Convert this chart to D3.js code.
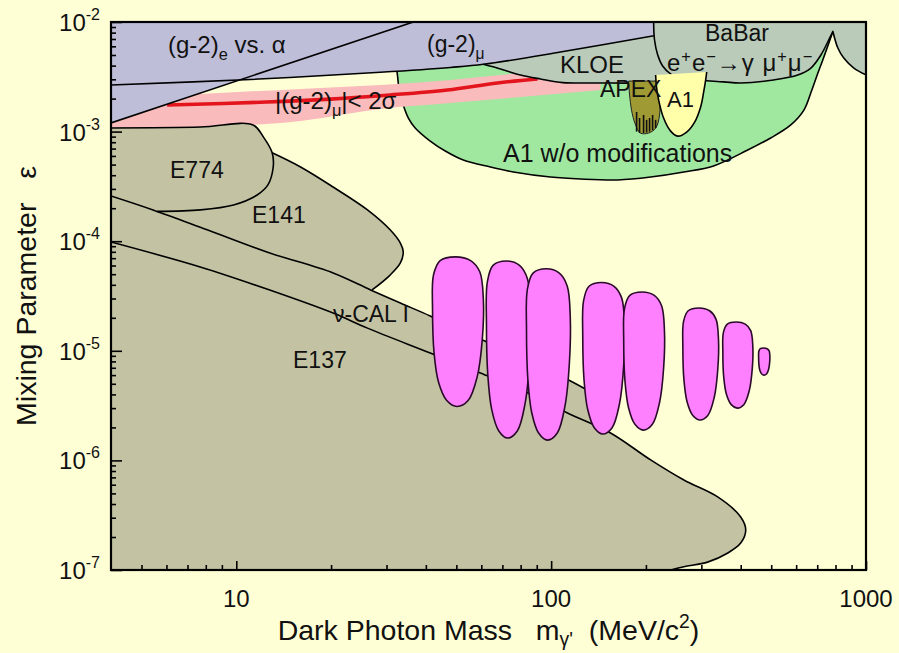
<!DOCTYPE html>
<html><head><meta charset="utf-8">
<script src="https://cdn.jsdelivr.net/npm/d3@7"></script>
<style>
html,body{margin:0;padding:0;background:#FFFFD6;}
svg{display:block;font-family:"Liberation Sans",Arial,Helvetica,sans-serif;}
text{white-space:pre;}
</style></head><body>
<svg id="chart" width="899" height="653"></svg>
<script>
// ---- axes ----
const massDomain = [4, 1000];            // MeV/c^2
const epsDomain = [1e-7, 1e-2];
const xMajorTicks = [10, 100, 1000];
const xMajorLabels = ["10", "100", "1000"];
const yMajorExponents = [-7, -6, -5, -4, -3, -2];

// ---- exclusion boundaries, [mass (MeV), epsilon] ----
const gm2eEdge = [[4, 1.2e-3], [36.5, 1e-2]];
const gm2muEdge = [[4, 2.66e-3], [11.1, 2.99e-3], [28.7, 3.48e-3], [47.9, 3.85e-3], [60.9, 4.11e-3], [107, 5.32e-3], [212, 7.5e-3]];
const kloeBabarEdge = [[60.9, 4.11e-3], [69, 3.73e-3], [79.9, 3.28e-3], [92.5, 3.02e-3], [109, 2.8e-3], [143, 2.78e-3], [192, 2.78e-3], [223, 2.89e-3], [277, 2.96e-3], [353, 2.84e-3], [400, 2.78e-3], [509, 2.96e-3], [607, 3.28e-3], [668, 3.8e-3], [719, 5.0e-3], [756, 6.57e-3], [785, 8.2e-3], [814, 5.79e-3], [850, 4.69e-3], [915, 3.8e-3], [1000, 3.3e-3]];
const babarInnerEdge = [[211.6, 1e-2], [213, 6.85e-3], [218, 5.0e-3], [226, 3.97e-3], [240, 3.35e-3], [258, 3.08e-3], [277, 2.96e-3]];
const a1FullEdge = [[32.0, 4.5e-3], [32.5, 3.28e-3], [32.9, 2.4e-3], [33.9, 1.75e-3], [35.2, 1.33e-3], [37.0, 1.08e-3], [41.3, 8.2e-4], [46.1, 6.65e-4], [52.6, 5.5e-4], [64.1, 4.75e-4], [75.9, 4.28e-4], [99.5, 3.85e-4], [124, 3.69e-4], [163, 3.62e-4], [207, 3.85e-4], [264, 4.28e-4], [328, 4.86e-4], [421, 6.79e-4], [498, 8.74e-4], [577, 1.15e-3], [635, 1.57e-3], [673, 2.4e-3], [698, 3.22e-3], [729, 4.5e-3], [785, 8.2e-3]];
const apexEdge = [[176, 2.89e-3], [177.5, 2.16e-3], [180, 1.57e-3], [185, 1.17e-3], [192, 9.7e-4], [204, 9.7e-4], [215, 1.08e-3], [221, 1.42e-3], [221, 2.16e-3], [218, 2.89e-3]];
const apexFringe = [[186.8, 1.51e-3, 1.0e-3], [190.9, 1.33e-3, 9.7e-4], [196.6, 1.42e-3, 9.7e-4], [201, 1.28e-3, 9.8e-4], [205.4, 1.33e-3, 1.0e-3], [210, 1.42e-3, 1.03e-3], [214.7, 1.28e-3, 1.08e-3]];
const a1Edge = [[214.7, 3.28e-3], [216.3, 2.5e-3], [219.5, 1.94e-3], [227.6, 1.33e-3], [239.6, 1.01e-3], [252.2, 9.1e-4], [269.4, 9.9e-4], [285.6, 1.22e-3], [298.4, 1.68e-3], [305.1, 2.3e-3], [309.6, 2.96e-3], [311.9, 3.5e-3]];

// (g-2)_mu favoured band: central curve and 2 sigma limits
const gm2muCentral = [[6.03, 1.75e-3], [12.5, 1.86e-3], [19.9, 1.98e-3], [30.8, 2.16e-3], [46.8, 2.40e-3], [67.5, 2.78e-3], [90.5, 3.02e-3]];
const bandMass = [4, 7.68, 16.0, 28.7, 47.9, 79.9, 143.5];
const bandLow = [1.03e-3, 1.10e-3, 1.25e-3, 1.61e-3, 1.82e-3, 2.07e-3, 2.40e-3];
const bandHigh = [1.94e-3, 2.20e-3, 2.45e-3, 2.66e-3, 2.96e-3, 3.43e-3, 3.97e-3];

// beam dump limits
const e774Edge = [[4, 1.08e-3], [7.7, 1.1e-3], [11.3, 1.15e-3], [12.2, 8.9e-4], [13.0, 6.4e-4], [13.1, 4.75e-4], [12.6, 3.26e-4], [11.65, 2.64e-4], [9.8, 2.14e-4], [7.7, 1.93e-4], [5.6, 1.87e-4]];
const e141Edge = [[13.0, 6.4e-4], [16.0, 4.75e-4], [20.3, 3.12e-4], [26.1, 1.93e-4], [30.8, 1.27e-4], [33.2, 9.6e-5], [33.9, 8.0e-5], [33.2, 6.33e-5], [30.8, 4.91e-5], [27.0, 3.59e-5]];
const vcalUpperEdge = [[4, 2.59e-4], [5.44, 1.93e-4], [8.08, 1.27e-4], [12.5, 7.97e-5], [20.3, 5.13e-5], [26.7, 3.59e-5], [33.2, 2.73e-5], [41.3, 2.08e-5], [59.6, 1.28e-5], [86, 7.9e-6], [113.6, 5.41e-6], [133.4, 4.21e-6]];
const e137Edge = [[4, 9.83e-5], [7.68, 5.82e-5], [12.5, 3.66e-5], [20.3, 2.21e-5], [26.1, 1.61e-5], [41.3, 9.55e-6], [59.6, 6.27e-6], [86, 4.03e-6], [112.7, 2.71e-6], [154.4, 1.78e-6], [207, 1.01e-6], [264, 6.62e-7], [338, 4.64e-7], [400, 3.05e-7], [415, 2.32e-7], [400, 1.76e-7], [364, 1.43e-7], [314, 1.18e-7], [264, 1.07e-7], [240, 1e-7]];

// projected reach, one island per beam setting
const islandMassLo = [42.0, 62.3, 83.5, 126, 170, 262, 351, 456];
const islandMassHi = [60.9, 86.0, 115, 171, 229, 340, 437, 495];
const islandEpsTop = [7.2e-5, 6.6e-5, 5.6e-5, 4.2e-5, 3.44e-5, 2.46e-5, 1.83e-5, 1.06e-5];
const islandEpsBot = [3.1e-6, 1.6e-6, 1.53e-6, 1.74e-6, 1.89e-6, 2.34e-6, 3.0e-6, 6.0e-6];

// ---- drawing ----
const W = 899, H = 653;
const box = {left: 111, right: 866, top: 22, bottom: 570};
const colors = {
  bg: "#FFFFD6", lavender: "#BEBED9", grey: "#BACBB9", green: "#A0E8A0",
  pink: "#F9BBBB", red: "#E3141C", khaki: "#C3C3A3", magenta: "#FF80FF",
  olive: "#A09A34", a1: "#FFFFAA"
};

const x = d3.scaleLog().domain(massDomain).range([box.left, box.right]);
const y = d3.scaleLog().domain(epsDomain).range([box.bottom, box.top]);

const svg = d3.select("#chart");
svg.append("rect").attr("width", W).attr("height", H).attr("fill", colors.bg);
svg.append("defs").append("clipPath").attr("id", "plotClip")
  .append("rect").attr("x", box.left).attr("y", box.top)
  .attr("width", box.right - box.left).attr("height", box.bottom - box.top);

const g = svg.append("g").attr("clip-path", "url(#plotClip)");
const smooth = d3.line().x(d => x(d[0])).y(d => y(d[1])).curve(d3.curveCatmullRom.alpha(0.5));
const straight = d3.line().x(d => x(d[0])).y(d => y(d[1]));

// join several smooth pieces into one continuous path
function joined(...pieces) {
  return pieces.map((p, i) => i ? smooth(p).replace(/^M/, "L") : smooth(p)).join("");
}
function lineTo(pts) { return pts.map(d => `L${x(d[0])},${y(d[1])}`).join(""); }

const edgeStyle = sel => sel.attr("fill", "none").attr("stroke", "#000").attr("stroke-width", 1.6).attr("stroke-linejoin", "round");

// split the BaBar boundary at its cusp
const cuspIdx = d3.maxIndex(kloeBabarEdge, d => d[1]);
const babarLeft = kloeBabarEdge.slice(0, cuspIdx + 1);
const babarRight = kloeBabarEdge.slice(cuspIdx);

// A1 without modifications
g.append("path")
  .attr("d", smooth(a1FullEdge) + lineTo([[a1FullEdge[a1FullEdge.length - 1][0], 1e-2], [a1FullEdge[0][0], 1e-2]]) + "Z")
  .attr("fill", colors.green);
g.append("path").attr("d", smooth(a1FullEdge)).call(edgeStyle);

// (g-2)_mu favoured band
const bandRows = bandMass.map((m, i) => ({m, lo: bandLow[i], hi: bandHigh[i]}));
g.append("path")
  .attr("d", d3.area().x(d => x(d.m)).y0(d => y(d.lo)).y1(d => y(d.hi)).curve(d3.curveMonotoneX)(bandRows))
  .attr("fill", colors.pink);
g.append("path").attr("d", smooth(gm2muCentral))
  .attr("fill", "none").attr("stroke", colors.red).attr("stroke-width", 3.6);

// KLOE + BaBar
g.append("path")
  .attr("d", joined(babarLeft, babarRight) + lineTo([[massDomain[1] * 1.05, 1e-2], [kloeBabarEdge[0][0], 1e-2]]) + "Z")
  .attr("fill", colors.grey);

// (g-2)_mu and (g-2)_e
g.append("path")
  .attr("d", smooth(gm2muEdge) + lineTo([[gm2muEdge[gm2muEdge.length - 1][0], 1e-2], [massDomain[0], 1e-2]]) + "Z")
  .attr("fill", colors.lavender);
g.append("path")
  .attr("d", straight(gm2eEdge.concat([[massDomain[0], 1e-2]])) + "Z")
  .attr("fill", colors.lavender);

g.append("path").attr("d", straight(gm2eEdge)).call(edgeStyle);
g.append("path").attr("d", smooth(gm2muEdge)).call(edgeStyle);
g.append("path").attr("d", joined(babarLeft, babarRight)).call(edgeStyle);
g.append("path").attr("d", smooth(babarInnerEdge)).call(edgeStyle);

// APEX
g.append("path").attr("d", smooth(apexEdge) + "Z").attr("fill", colors.olive).attr("stroke", "#222").attr("stroke-width", 1);
g.selectAll("line.fringe").data(apexFringe).join("line").attr("class", "fringe")
  .attr("x1", d => x(d[0])).attr("x2", d => x(d[0]))
  .attr("y1", d => y(d[1])).attr("y2", d => y(d[2]))
  .attr("stroke", "#111").attr("stroke-width", 1.6);

// A1
g.append("path").attr("d", smooth(a1Edge)).attr("fill", colors.a1);
g.append("path").attr("d", smooth(a1Edge)).call(edgeStyle);

// beam dumps: E774, E141, nu-CAL I, E137
g.append("path")
  .attr("d", joined(e774Edge.slice(0, 5), e141Edge, vcalUpperEdge.slice(5), e137Edge.slice(9)) +
    lineTo([[massDomain[0], epsDomain[0] / 1.1]]) + "Z")
  .attr("fill", colors.khaki);
[e774Edge, e141Edge, vcalUpperEdge, e137Edge].forEach(e => g.append("path").attr("d", smooth(e)).call(edgeStyle));

// reach islands
const islandShape = [[0.45, 0], [0.75, 0.025], [0.93, 0.1], [1, 0.28], [0.98, 0.55], [0.88, 0.8], [0.7, 0.96], [0.48, 1], [0.28, 0.96], [0.12, 0.84], [0.03, 0.64], [0, 0.35], [0.02, 0.12], [0.15, 0.025]];
const islands = islandMassLo.map((m, i) => ({x0: x(m), x1: x(islandMassHi[i]), y0: y(islandEpsTop[i]), y1: y(islandEpsBot[i])}));
const closedCurve = d3.line().curve(d3.curveCatmullRomClosed.alpha(0.5));
g.selectAll("path.island").data(islands).join("path").attr("class", "island")
  .attr("d", b => closedCurve(islandShape.map(p => [b.x0 + p[0] * (b.x1 - b.x0), b.y0 + p[1] * (b.y1 - b.y0)])))
  .attr("fill", colors.magenta).attr("stroke", "#2a0a2a").attr("stroke-width", 1.6);

// ---- axes: inward ticks ----
const minorY = [];
for (let e = -7; e < -2; e++) for (let k = 2; k <= 9; k++) minorY.push(k * Math.pow(10, e));
const minorX = [];
[1, 10, 100].forEach(dec => { for (let k = 1; k <= 9; k++) { const v = k * dec; if (v > massDomain[0] && v < massDomain[1] && !xMajorTicks.includes(v)) minorX.push(v); } });

const axes = svg.append("g");
function tickAxis(axis, tr) {
  axes.append("g").attr("transform", tr).call(axis)
    .call(s => s.select(".domain").remove())
    .call(s => s.selectAll("line").attr("stroke", "#000").attr("stroke-width", 1.6));
}
tickAxis(d3.axisLeft(y).tickValues(minorY).tickSize(-5).tickFormat(""), `translate(${box.left},0)`);
tickAxis(d3.axisLeft(y).tickValues(yMajorExponents.map(e => Math.pow(10, e))).tickSize(-11).tickFormat(""), `translate(${box.left},0)`);
tickAxis(d3.axisBottom(x).tickValues(minorX).tickSize(-5).tickFormat(""), `translate(0,${box.bottom})`);
tickAxis(d3.axisBottom(x).tickValues(xMajorTicks).tickSize(-9).tickFormat(""), `translate(0,${box.bottom})`);

axes.append("rect").attr("x", box.left).attr("y", box.top)
  .attr("width", box.right - box.left).attr("height", box.bottom - box.top)
  .attr("fill", "none").attr("stroke", "#000").attr("stroke-width", 2.2);

// tick labels
const tickFont = 24;
yMajorExponents.forEach(e => {
  const t = axes.append("text").attr("x", 100).attr("y", y(Math.pow(10, e)) + 9)
    .attr("text-anchor", "end").attr("font-size", tickFont).attr("fill", "#111");
  t.append("tspan").text("10");
  t.append("tspan").attr("dy", -11).attr("font-size", 16).text(String(e));
});
xMajorTicks.forEach((v, i) => {
  axes.append("text").attr("x", x(v)).attr("y", 607).attr("text-anchor", "middle")
    .attr("font-size", tickFont).attr("fill", "#111").text(xMajorLabels[i]);
});

// rich text helper: parts are [string, "sub" | "sup" | undefined]
function rich(px, py, size, parts, opts = {}) {
  const t = svg.append("text").attr("x", px).attr("y", py).attr("font-size", size).attr("fill", "#111");
  if (opts.anchor) t.attr("text-anchor", opts.anchor);
  if (opts.transform) t.attr("transform", opts.transform);
  if (opts.spacing) t.attr("letter-spacing", opts.spacing);
  const subDrop = opts.subDrop ?? 0.3, supRise = opts.supRise ?? 0.42;
  let shift = 0;
  parts.forEach(([s, kind]) => {
    const target = kind === "sub" ? size * subDrop : kind === "sup" ? -size * supRise : 0;
    const sp = t.append("tspan").attr("dy", target - shift).text(s);
    if (kind) sp.attr("font-size", size * 0.68);
    shift = target;
  });
  return t;
}

rich(168, 53, 24, [["(g-2)"], ["e", "sub"], [" vs. α"]]);
rich(427, 52, 23, [["(g-2)"], ["μ", "sub"]]);
rich(560, 73, 24, [["KLOE"]]);
rich(705, 41, 23, [["BaBar"]]);
rich(667, 71, 24, [["e"], ["+", "sup"], ["e"], ["−", "sup"], ["→γ μ"], ["+", "sup"], ["μ"], ["−", "sup"]], {spacing: 1, supRise: 0.36});
rich(275, 109, 24, [["|(g-2)"], ["μ", "sub"], ["|< 2σ"]]);
rich(600, 97, 23, [["APEX"]]);
rich(667, 107, 22, [["A1"]]);
rich(503, 162, 25, [["A1 w/o modifications"]]);
rich(170, 178, 23, [["E774"]]);
rich(252, 223, 23, [["E141"]]);
rich(333, 322, 23, [["ν-CAL I"]]);
rich(293, 368, 23, [["E137"]]);

// axis titles, centred on the plotting box
const midX = (box.left + box.right) / 2, midY = (box.top + box.bottom) / 2;
rich(midX, 640, 28.5, [["Dark Photon Mass   m"], ["γ'", "sub"], ["  (MeV/c"], ["2", "sup"], [")"]], {anchor: "middle", subDrop: 0.2});
rich(0, 0, 28.5, [["Mixing Parameter   ε"]], {anchor: "middle", transform: `translate(36,${midY}) rotate(-90)`});
</script>
</body></html>
